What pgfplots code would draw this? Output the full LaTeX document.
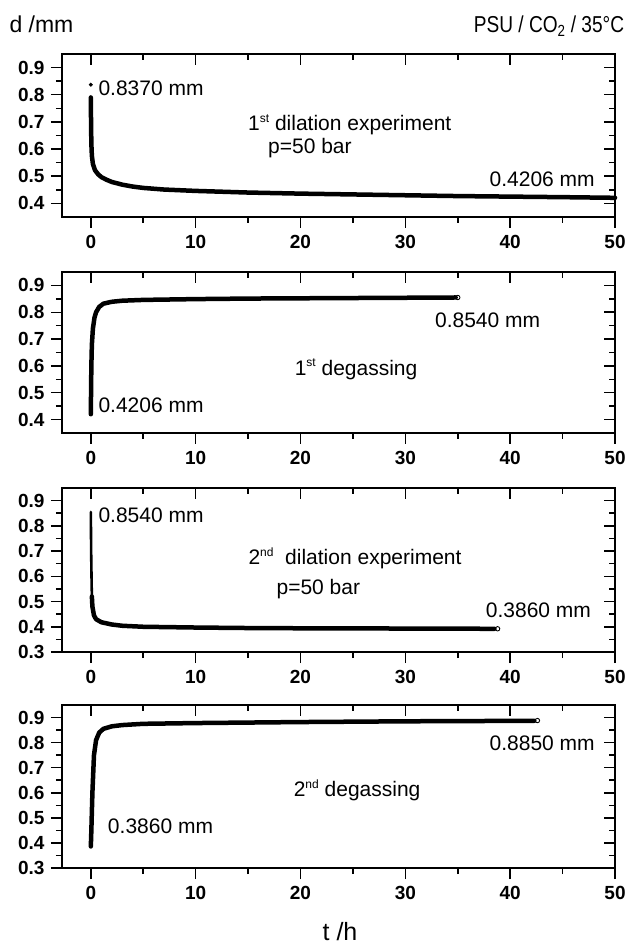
\documentclass[border=0pt]{standalone}
\usepackage{pgfplots}
\pgfplotsset{compat=1.18}
\usepackage{fontspec}
\setmainfont{Liberation Sans}
\newcommand{\ann}{\fontsize{21}{21}\selectfont}
\newcommand{\sups}[1]{\raisebox{0.75ex}{\fontsize{12}{12}\selectfont #1}}
\begin{document}
\begin{tikzpicture}
\path[use as bounding box] (0,0) rectangle (632pt,-949pt);
\pgfplotsset{
  base/.style={scale only axis, width=553pt, xmin=-2.75, xmax=50,
    xtick={0,10,20,30,40,50}, minor x tick num=1, minor y tick num=1,
    major tick length=11pt, minor tick length=6pt,
    every tick/.style={black, line width=1.5pt},
    axis line style={line width=2.1pt},
    /pgf/number format/assume math mode=true,
    ticklabel style={font=\bfseries\fontsize{19}{19}\selectfont},
    xticklabel style={yshift=-4pt},
    yticklabel style={xshift=-3pt, /pgf/number format/fixed, /pgf/number format/precision=1, /pgf/number format/fixed zerofill},
    clip=false},
  main/.style={base, xtick pos=left, ytick pos=left, tick align=outside},
  mirror/.style={base, xtick pos=right, ytick pos=right, tick align=inside, xticklabels={}, yticklabels={}},
  curve/.style={black, line width=4.5pt, line join=round, line cap=round},
  endmark/.style={only marks, mark=o, mark size=2.2pt, black, line width=0.9pt, mark options={fill=white}}
}
% titles
\node[anchor=base west, font=\fontsize{23}{23}\selectfont] at (6pt,-33pt) {d /mm};
\node[anchor=base east, font=\fontsize{23}{23}\selectfont, xscale=0.83, transform shape] at (627pt,-33pt) {PSU / CO\textsubscript{2} / 35°C};
\node[anchor=base, font=\fontsize{25}{25}\selectfont] at (340pt,-940pt) {t /h};

% ---------- Panel 1 ----------
\begin{axis}[main, at={(62pt,-54pt)}, anchor=north west, height=163pt, ymin=0.35, ymax=0.95, ytick={0.4,0.5,0.6,0.7,0.8,0.9}]
\addplot[curve] coordinates {(0,0.79) (0.02,0.70) (0.05,0.62) (0.1,0.575) (0.2,0.545) (0.4,0.522) (0.7,0.507) (1,0.497) (1.5,0.487) (2,0.479) (3,0.469) (4,0.462) (5,0.457) (7,0.451) (10,0.446) (15,0.440) (20,0.436) (25,0.433) (30,0.430) (35,0.427) (40,0.425) (45,0.423) (50,0.4206)};
\addplot[only marks, mark=*, mark size=1.8pt, black] coordinates {(0,0.837)};
\node[anchor=west, font=\ann] at (axis cs:0.4,0.825) {0.8370 mm};
\node[font=\ann] at (axis cs:24.7,0.69) {1\sups{st} dilation experiment};
\node[font=\ann] at (axis cs:20.9,0.605) {p=50 bar};
\node[anchor=east, font=\ann] at (axis cs:48.4,0.49) {0.4206 mm};
\end{axis}
\begin{axis}[mirror, at={(62pt,-54pt)}, anchor=north west, height=163pt, ymin=0.35, ymax=0.95, ytick={0.4,0.5,0.6,0.7,0.8,0.9}]
\end{axis}

% ---------- Panel 2 ----------
\begin{axis}[main, at={(62pt,-272pt)}, anchor=north west, height=161pt, ymin=0.35, ymax=0.95, ytick={0.4,0.5,0.6,0.7,0.8,0.9}]
\addplot[curve] coordinates {(0,0.42) (0.02,0.50) (0.05,0.60) (0.1,0.68) (0.2,0.74) (0.35,0.78) (0.5,0.80) (0.8,0.82) (1.2,0.832) (2,0.839) (3,0.843) (5,0.846) (10,0.849) (15,0.851) (20,0.852) (25,0.853) (30,0.854) (34.8,0.855)};
\addplot[endmark] coordinates {(35,0.855)};
\node[anchor=west, font=\ann] at (axis cs:0.4,0.452) {0.4206 mm};
\node[font=\ann] at (axis cs:25.3,0.587) {1\sups{st} degassing};
\node[anchor=west, font=\ann] at (axis cs:32.5,0.769) {0.8540 mm};
\end{axis}
\begin{axis}[mirror, at={(62pt,-272pt)}, anchor=north west, height=161pt, ymin=0.35, ymax=0.95, ytick={0.4,0.5,0.6,0.7,0.8,0.9}]
\end{axis}

% ---------- Panel 3 ----------
\begin{axis}[main, at={(62pt,-488pt)}, anchor=north west, height=164pt, ymin=0.3, ymax=0.95, ytick={0.3,0.4,0.5,0.6,0.7,0.8,0.9}]
\addplot[black, line width=2.6pt, line cap=round] coordinates {(0,0.855) (0.03,0.70) (0.08,0.56) (0.12,0.50)};
\addplot[curve] coordinates {(0.1,0.52) (0.15,0.48) (0.3,0.445) (0.5,0.43) (1,0.418) (2,0.409) (3,0.404) (5,0.400) (10,0.397) (15,0.395) (20,0.394) (30,0.393) (38.5,0.392)};
\addplot[endmark] coordinates {(38.8,0.392)};
\node[anchor=west, font=\ann] at (axis cs:0.4,0.84) {0.8540 mm};
\node[font=\ann] at (axis cs:25.2,0.67) {2\sups{nd}\; dilation experiment};
\node[font=\ann] at (axis cs:21.7,0.55) {p=50 bar};
\node[font=\ann] at (axis cs:42.7,0.465) {0.3860 mm};
\end{axis}
\begin{axis}[mirror, at={(62pt,-488pt)}, anchor=north west, height=164pt, ymin=0.3, ymax=0.95, ytick={0.3,0.4,0.5,0.6,0.7,0.8,0.9}]
\end{axis}

% ---------- Panel 4 ----------
\begin{axis}[main, at={(62pt,-705pt)}, anchor=north west, height=163pt, ymin=0.3, ymax=0.95, ytick={0.3,0.4,0.5,0.6,0.7,0.8,0.9}]
\addplot[curve] coordinates {(0,0.386) (0.05,0.45) (0.15,0.60) (0.3,0.75) (0.5,0.81) (0.8,0.84) (1.2,0.855) (2,0.865) (3,0.870) (5,0.875) (10,0.878) (20,0.882) (30,0.885) (42.3,0.887)};
\addplot[endmark] coordinates {(42.6,0.888)};
\node[anchor=west, font=\ann] at (axis cs:1.3,0.466) {0.3860 mm};
\node[font=\ann] at (axis cs:25.4,0.609) {2\sups{nd} degassing};
\node[anchor=east, font=\ann] at (axis cs:48.4,0.798) {0.8850 mm};
\end{axis}
\begin{axis}[mirror, at={(62pt,-705pt)}, anchor=north west, height=163pt, ymin=0.3, ymax=0.95, ytick={0.3,0.4,0.5,0.6,0.7,0.8,0.9}]
\end{axis}
\end{tikzpicture}
\end{document}
